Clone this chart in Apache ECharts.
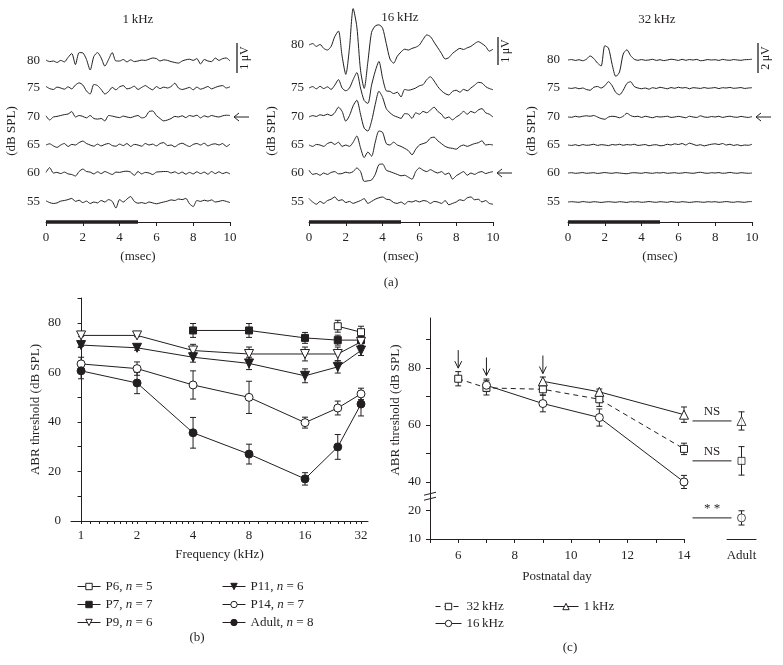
<!DOCTYPE html>
<html><head><meta charset="utf-8">
<script src="https://cdn.jsdelivr.net/npm/echarts@6/dist/echarts.min.js"></script>
<style>html,body{margin:0;padding:0;background:#fff}#c{width:783px;height:665px}</style>
</head><body><div id="c"></div>
<script>
// ======================= DATA =======================
// (a) ABR waveforms, microvolts, sampled every 0.2 ms from 0 to 10 ms
const levels = [80, 75, 70, 65, 60, 55];
const sampleStepMs = 0.2;
const stimulusMs = [0, 5];
const thresholdLevel = [70, 60, 70];          // arrows (1, 16, 32 kHz)
const scaleBarUV = [1, 1, 2];

const k1_80 = [0.03,-0.02,0.0,-0.05,0.02,-0.03,0.12,0.25,-0.12,0.28,
  0.27,0.05,-0.3,0.15,0.28,0.1,-0.17,0.05,0.28,0.0,
  0.0,0.05,-0.03,0.04,-0.02,0.0,0.03,0.02,0.06,0.1,
  0.08,0.0,0.04,0.02,-0.02,-0.05,-0.07,0.0,0.04,0.06,
  0.02,0.08,-0.1,0.05,0.0,-0.02,0.1,0.02,0.08,0.1,0.0];
const k1_75 = [0.05,-0.02,-0.05,0.03,0.0,-0.04,0.04,-0.03,0.1,0.17,
  0.1,-0.1,-0.2,0.12,0.08,-0.05,-0.2,-0.12,0.02,-0.06,
  0.04,0.08,-0.03,0.0,0.06,-0.05,0.02,0.08,0.0,-0.06,
  0.05,-0.02,0.03,0.0,0.05,0.16,0.0,-0.05,-0.02,0.02,
  -0.06,0.03,-0.04,0.0,0.05,-0.03,0.02,0.06,0.08,0.0,0.04];
const k1_70 = [0.04,-0.1,0.0,0.02,0.05,0.08,0.1,0.18,0.0,0.05,
  0.02,-0.03,0.05,-0.05,-0.07,-0.05,-0.13,0.05,0.03,0.0,
  -0.02,0.03,0.0,-0.02,0.02,0.05,-0.03,0.0,0.18,0.2,
  0.05,-0.05,-0.13,-0.1,-0.05,0.02,0.0,0.04,-0.02,0.05,
  0.02,0.06,-0.03,0.04,0.0,0.05,0.02,0.0,0.04,0.06,0.05];
const k1_65 = [0.0,0.04,-0.03,-0.08,0.0,0.05,-0.05,0.02,0.0,0.08,
  0.13,0.05,0.0,-0.04,0.03,-0.03,0.02,0.05,-0.02,-0.04,
  0.03,-0.02,0.05,-0.05,0.02,0.0,-0.04,0.05,0.0,0.03,
  -0.03,0.05,0.08,-0.02,0.0,-0.06,0.02,0.06,0.0,-0.05,
  0.02,0.05,0.0,0.06,-0.03,0.02,0.04,0.0,0.05,-0.05,0.03];
const k1_60 = [0.02,0.18,0.0,0.02,-0.02,0.03,-0.03,-0.05,-0.1,0.05,
  0.13,0.05,0.03,-0.03,0.04,-0.02,0.05,0.0,-0.05,0.03,
  0.02,0.05,0.06,0.03,-0.08,0.05,-0.03,0.02,0.0,-0.05,
  0.03,0.04,0.05,0.05,0.0,0.04,-0.02,0.03,-0.04,0.02,
  -0.03,0.04,-0.02,0.03,-0.04,0.05,-0.02,0.04,-0.02,0.02,-0.03];
const k1_55 = [0.04,-0.02,-0.05,-0.03,0.03,0.05,0.08,0.12,0.02,0.06,
  -0.02,0.03,-0.05,0.0,-0.03,0.05,0.0,0.08,0.02,-0.2,
  0.08,0.0,0.1,0.18,0.02,-0.04,-0.02,-0.05,0.0,-0.03,
  -0.06,-0.03,0.0,0.03,0.07,0.05,0.1,0.08,0.12,-0.06,
  -0.15,0.05,0.02,0.06,0.03,0.07,0.0,0.02,0.05,0.02,-0.02];

const k16_80 = [0.0,0.05,-0.05,0.02,-0.12,-0.18,-0.05,0.3,0.5,-0.4,
  -1.05,-0.1,1.3,0.65,-0.9,-1.55,-0.6,0.45,0.68,0.72,
  0.6,0.05,-0.5,-0.65,-0.4,-0.25,-0.15,-0.18,-0.12,-0.08,
  0.0,0.2,0.36,0.3,0.1,-0.1,-0.3,-0.5,-0.45,-0.3,
  -0.2,-0.12,-0.16,-0.1,-0.05,0.05,0.12,0.05,-0.05,-0.22,-0.15];
const k16_75 = [0.0,0.05,-0.03,0.06,-0.02,0.04,-0.05,0.1,0.3,0.0,
  -0.1,0.0,0.3,0.55,0.0,-0.45,-0.55,0.1,0.6,0.95,
  0.35,-0.1,-0.12,-0.2,-0.15,-0.32,-0.05,-0.08,-0.05,0.0,
  0.08,0.12,0.3,0.4,0.25,0.05,-0.1,-0.2,-0.25,-0.12,
  -0.08,-0.15,-0.05,-0.1,0.0,0.1,0.2,0.18,0.05,-0.02,-0.06];
const k16_70 = [0.0,0.05,0.02,0.08,0.05,0.1,0.05,0.15,0.35,0.2,
  -0.15,0.05,0.4,0.6,0.1,-0.4,-0.5,-0.15,0.45,0.92,
  0.7,0.3,0.15,0.05,0.0,-0.05,0.12,0.1,-0.05,0.15,
  0.1,0.2,0.15,0.25,0.35,0.2,0.1,-0.05,0.0,-0.1,
  0.0,0.08,0.2,0.1,0.2,0.15,0.25,0.3,0.15,0.1,0.0];
const k16_65 = [0.0,-0.05,0.02,0.0,-0.05,0.05,0.1,0.02,0.1,-0.05,
  0.0,-0.05,0.1,0.32,-0.1,-0.45,-0.25,-0.4,0.1,0.5,
  0.45,0.05,0.0,0.1,0.0,-0.05,-0.12,-0.2,-0.35,-0.15,
  0.0,0.05,0.1,0.25,0.28,0.15,0.05,-0.05,-0.1,-0.12,
  -0.15,-0.05,0.0,-0.05,0.0,0.05,0.08,0.15,0.0,0.02,0.0];
const k16_60 = [0.1,-0.05,-0.02,-0.08,0.0,-0.05,0.02,0.05,-0.03,-0.02,
  0.03,0.0,0.05,0.18,0.05,-0.3,-0.28,-0.25,-0.05,0.3,
  0.32,0.1,0.05,0.0,-0.05,-0.1,-0.08,-0.15,-0.22,0.05,
  0.18,0.1,0.05,0.12,0.05,0.0,0.05,-0.05,0.0,-0.22,
  -0.1,-0.02,0.05,-0.08,0.0,-0.05,0.02,0.05,-0.02,0.02,0.05];
const k16_55 = [0.12,0.0,-0.08,0.02,-0.05,0.05,0.1,0.18,0.05,0.08,
  -0.02,0.02,-0.05,0.0,0.05,0.12,-0.05,0.02,0.1,0.15,
  0.18,0.1,0.08,-0.02,-0.05,0.0,-0.08,0.02,0.0,0.05,
  0.0,0.05,0.03,-0.05,0.02,0.0,-0.05,0.05,-0.1,-0.05,
  0.0,0.08,0.05,0.15,0.18,0.08,0.1,0.0,0.05,-0.05,-0.08];

const k32_80 = [0.0,0.03,-0.03,0.02,-0.05,0.05,0.27,0.1,-0.2,-0.4,
  0.95,0.8,-0.3,-1.1,-0.8,0.4,0.68,0.3,0.05,-0.02,
  0.03,-0.02,0.0,0.05,-0.03,0.02,-0.04,0.0,0.05,0.02,
  -0.03,0.05,-0.02,0.03,0.0,0.04,-0.05,-0.02,0.03,0.0,
  0.02,-0.03,0.04,0.0,-0.02,0.03,0.0,-0.02,0.02,0.03,0.05];
const k32_75 = [0.0,-0.03,0.02,-0.05,0.0,-0.1,-0.15,0.05,0.1,0.0,
  0.15,0.42,0.15,-0.3,-0.45,-0.15,0.3,0.42,0.1,0.0,
  -0.05,0.0,-0.08,0.02,-0.03,0.05,0.0,-0.05,0.03,-0.02,
  0.05,0.0,0.03,-0.05,0.02,0.0,-0.03,0.03,-0.02,0.0,
  0.03,-0.04,0.02,0.0,0.04,-0.02,0.0,0.03,-0.03,0.0,0.02];
const k32_70 = [0.0,-0.02,0.05,0.0,0.05,0.08,0.05,0.1,0.0,-0.1,
  -0.15,0.0,0.05,0.02,-0.05,0.05,0.25,0.1,0.02,0.05,
  -0.03,0.05,0.0,-0.05,0.03,0.0,0.02,0.05,-0.03,0.0,
  0.04,0.0,-0.05,0.05,0.0,-0.03,0.08,0.0,-0.02,0.03,
  0.0,0.05,-0.03,0.02,0.05,0.0,-0.02,0.04,0.0,-0.03,0.03];
const k32_65 = [0.0,-0.03,0.02,-0.05,0.03,-0.02,0.0,0.05,-0.03,0.02,
  0.0,-0.04,0.03,0.0,0.05,-0.02,0.03,0.0,0.05,-0.03,
  0.0,0.03,-0.05,0.0,0.02,-0.05,-0.03,0.05,0.0,0.08,
  0.03,0.1,0.0,0.12,0.05,-0.03,0.02,-0.06,0.0,0.05,
  0.08,0.03,0.1,0.0,0.05,-0.03,0.02,-0.05,0.0,-0.02,0.05];
const k32_60 = [0.0,0.02,-0.02,0.0,0.03,-0.02,0.0,0.02,-0.03,0.0,
  0.03,0.0,-0.02,0.02,0.0,-0.03,-0.05,0.0,0.02,0.0,
  -0.02,0.03,0.0,-0.02,0.02,0.0,0.03,-0.02,0.0,0.02,
  -0.02,0.0,0.03,0.0,-0.02,0.02,0.05,0.0,-0.02,0.02,
  0.0,0.03,-0.02,0.0,0.04,0.0,-0.02,0.02,0.0,-0.02,0.0];
const k32_55 = [0.0,0.02,0.0,-0.02,0.03,0.0,-0.02,0.02,0.0,-0.03,
  0.0,0.02,0.0,-0.02,0.02,0.0,-0.03,0.02,0.0,0.02,
  -0.02,0.0,0.03,0.0,-0.02,0.02,0.0,-0.02,0.03,0.0,
  -0.02,0.02,0.0,-0.03,0.0,0.02,0.0,-0.02,0.02,0.0,
  0.02,-0.02,0.0,0.03,0.0,-0.02,0.02,0.0,-0.02,0.02,0.03];

// (b) thresholds vs frequency
const freqKHz = [1, 2, 4, 8, 16, 24, 32];
const freqTicks = [1, 2, 4, 8, 16, 32];
const minorFreqTicks = [1.125,1.25,1.375,1.5,1.625,1.75,1.875,2.25,2.5,2.75,3,3.25,3.5,3.75,
  4.5,5,5.5,6,6.5,7,7.5,9,10,11,12,13,14,15,18,20,22,24,26,28,30];
const groupNames = ['P6', 'P7', 'P9', 'P11', 'P14', 'Adult'];
const groupN = [5, 7, 6, 6, 7, 8];
const thrP6 = [null, null, null, null, null, 78.6, 76.2];
const semP6 = [null, null, null, null, null, 2.4, 2.4];
const thrP7 = [null, null, 76.9, 76.9, 73.9, 73.0, 73.0];
const semP7 = [null, null, 2.8, 2.8, 2.2, 2.0, 1.5];
const thrP9 = [74.9, 74.9, 68.8, 67.4, 67.4, 67.4, 72.3];
const semP9 = [0.5, 0.5, 2.5, 2.8, 2.8, 2.8, 1.5];
const thrP11 = [71.0, 69.9, 66.1, 63.6, 58.6, 62.2, 68.8];
const semP11 = [0.5, 1.0, 2.0, 2.5, 2.8, 2.5, 2.0];
const thrP14 = [63.4, 61.5, 54.9, 49.9, 39.7, 45.6, 51.3];
const semP14 = [2.7, 2.7, 5.7, 6.5, 2.2, 2.8, 2.3];
const thrAdult = [60.6, 55.7, 35.6, 27.0, 17.0, 29.9, 47.2];
const semAdult = [3.2, 4.3, 6.2, 4.0, 2.5, 5.0, 4.8];

// (c) thresholds vs postnatal day
const days32 = [6, 7, 9, 11, 14];
const thr32 = [76.2, 73.0, 72.5, 69.0, 51.6];
const sem32 = [2.5, 2.5, 2.0, 2.5, 2.0];
const days16 = [7, 9, 11, 14];
const thr16 = [73.9, 67.5, 62.6, 40.0];
const sem16 = [2.2, 2.9, 3.0, 2.3];
const days1 = [9, 11, 14];
const thr1 = [75.3, 71.6, 63.6];
const sem1 = [1.5, 1.0, 2.7];
const adultCat = ['Adult'];
const adult32 = [47.4], adultSem32 = [5.0];
const adult16 = [17.4], adultSem16 = [2.5];
const adult1 = [61.4], adultSem1 = [3.2];
const arrowDays = [6, 7, 9];
const sigMarks = ['NS', 'NS', '* *'];   // 1 kHz, 32 kHz, 16 kHz vs adult
const dayTicks = [6, 8, 10, 12, 14];

// ======================= LAYOUT / STYLE =======================
const FONT = 'Liberation Serif';
const INK = '#231f20';
const AX = {lineStyle: {color: INK, width: 1}};
const panelA = [
  {title: '1\u2009kHz', left: 46, pxPerUV: 30, basePx: [161, 134, 105, 77, 49, 20],
   traces: [k1_80, k1_75, k1_70, k1_65, k1_60, k1_55], barX: 237, barTop: 43, titleX: 138, titleY: 20, lm: 6, ng: 28},
  {title: '16\u2009kHz', left: 309, pxPerUV: 28, basePx: [177, 134, 105, 77, 49, 20],
   traces: [k16_80, k16_75, k16_70, k16_65, k16_60, k16_55], barX: 498, barTop: 37, titleX: 400, titleY: 18, lm: 5, ng: 31},
  {title: '32\u2009kHz', left: 568, pxPerUV: 15, basePx: [162, 134, 105, 77, 49, 20],
   traces: [k32_80, k32_75, k32_70, k32_65, k32_60, k32_55], barX: 758, barTop: 43, titleX: 657, titleY: 20, lm: 8, ng: 30}
];
const A_TOP = 40, A_H = 182, A_W = 184;

// broken y axis of (c): 20..40 is cut out
function tOf(v) { return v >= 30 ? v : v + 10; }

function errRender(params, api) {
  const x = api.value(0), yTop = api.value(1), yBot = api.value(2);
  const a = api.coord([x, yTop]), b = api.coord([x, yBot]);
  const w = 3, s = {stroke: INK, lineWidth: 1};
  return {type: 'group', children: [
    {type: 'line', shape: {x1: a[0], y1: a[1], x2: b[0], y2: b[1]}, style: s},
    {type: 'line', shape: {x1: a[0] - w, y1: a[1], x2: a[0] + w, y2: a[1]}, style: s},
    {type: 'line', shape: {x1: b[0] - w, y1: b[1], x2: b[0] + w, y2: b[1]}, style: s}
  ]};
}

const grid = [], xAxis = [], yAxis = [], series = [];
const lbl = {color: INK, fontFamily: FONT, fontSize: 13};

// ---- (a)
panelA.forEach((p, gi) => {
  grid.push({left: p.left, top: A_TOP, width: A_W, height: A_H});
  const baseUV = p.basePx.map(b => b / p.pxPerUV);
  p.baseUV = baseUV;
  xAxis.push({gridIndex: gi, type: 'value', min: 0, max: 10, interval: 2,
    axisLine: AX, axisTick: {length: 4, lineStyle: {color: INK}}, axisLabel: Object.assign({margin: 9}, lbl),
    splitLine: {show: false}, name: '(msec)', nameLocation: 'middle', nameGap: 28, nameTextStyle: lbl});
  yAxis.push({gridIndex: gi, type: 'value', min: 0, max: A_H / p.pxPerUV,
    axisLine: {show: false}, axisTick: {show: false}, splitLine: {show: false},
    axisLabel: Object.assign({customValues: baseUV, margin: p.lm,
      formatter: v => { const i = baseUV.findIndex(b => Math.abs(b - v) < 1e-3); return i >= 0 ? String(levels[i]) : ''; }}, lbl),
    name: '(dB SPL)', nameLocation: 'middle', nameGap: p.ng, nameTextStyle: lbl});
  p.traces.forEach((arr, j) => {
    series.push({type: 'line', name: 'a' + gi + '-' + levels[j], xAxisIndex: gi, yAxisIndex: gi,
      data: arr.map((v, i) => [i * sampleStepMs, baseUV[j] + v]),
      showSymbol: false, symbol: 'none', smooth: 0.25, clip: false, silent: true,
      lineStyle: {color: INK, width: 1}});
  });
  series.push({type: 'line', name: 'stim' + gi, xAxisIndex: gi, yAxisIndex: gi,
    data: stimulusMs.map(t => [t, 0]), symbol: 'none', clip: false, silent: true,
    lineStyle: {color: INK, width: 3.5}, z: 4});
});

// ---- (b)
grid.push({left: 71, top: 298, width: 297, height: 223});
const XB_MIN = -0.18, XB_MAX = 5.125;
const allFreqTicks = freqTicks.concat(minorFreqTicks).sort((a, b) => a - b);
xAxis.push({gridIndex: 3, type: 'value', position: 'bottom', min: XB_MIN, max: XB_MAX, axisLine: AX,
  axisTick: {customValues: allFreqTicks.map(Math.log2), length: 3, lineStyle: {color: INK}},
  axisLabel: Object.assign({customValues: freqTicks.map(Math.log2), margin: 8,
    formatter: v => String(Math.round(Math.pow(2, v)))}, lbl),
  splitLine: {show: false}, name: 'Frequency (kHz)', nameLocation: 'middle', nameGap: 27, nameTextStyle: lbl});
yAxis.push({gridIndex: 3, type: 'value', min: 0, max: 90, axisLine: Object.assign({show: true}, AX),
  axisTick: {show: true, customValues: [0,10,20,30,40,50,60,70,80,90], length: 3.5, lineStyle: {color: INK}},
  axisLabel: Object.assign({customValues: [0,20,40,60,80], margin: 10}, lbl), splitLine: {show: false},
  name: 'ABR threshold (dB SPL)', nameLocation: 'middle', nameGap: 29, nameTextStyle: lbl});

const groupThr = [thrP6, thrP7, thrP9, thrP11, thrP14, thrAdult];
const groupSem = [semP6, semP7, semP9, semP11, semP14, semAdult];
const groupSym = [
  {symbol: 'rect', size: 7, fill: '#fff', rot: 0},
  {symbol: 'rect', size: 7, fill: INK, rot: 0},
  {symbol: 'triangle', size: 9, fill: '#fff', rot: 180},
  {symbol: 'triangle', size: 9, fill: INK, rot: 180},
  {symbol: 'circle', size: 8, fill: '#fff', rot: 0},
  {symbol: 'circle', size: 8, fill: INK, rot: 0}
];
groupNames.forEach((name, g) => {
  const pts = [], errs = [];
  freqKHz.forEach((f, i) => {
    const v = groupThr[g][i];
    if (v == null) return;
    const x = Math.log2(f);
    pts.push([x, v]);
    errs.push([x, v + groupSem[g][i], v - groupSem[g][i]]);
  });
  const s = groupSym[g];
  series.push({type: 'custom', name: name + '-err', xAxisIndex: 3, yAxisIndex: 3, renderItem: errRender,
    data: errs, z: 2, silent: true});
  series.push({type: 'line', name, xAxisIndex: 3, yAxisIndex: 3, data: pts,
    symbol: s.symbol, symbolSize: s.size, symbolRotate: s.rot, showSymbol: true,
    itemStyle: {color: s.fill, borderColor: INK, borderWidth: 1},
    lineStyle: {color: INK, width: 1}, z: 3});
});

// ---- (c)
grid.push({left: 430, top: 318, width: 254, height: 221});
grid.push({left: 727, top: 318, width: 29, height: 221});
const YC_MIN = 20, YC_MAX = 97.5;
xAxis.push({gridIndex: 4, type: 'value', min: 5, max: 14, interval: 1, axisLine: AX,
  axisTick: {length: 4, lineStyle: {color: INK}},
  axisLabel: Object.assign({margin: 10, formatter: v => dayTicks.includes(v) ? String(v) : ''}, lbl),
  splitLine: {show: false}, name: 'Postnatal day', nameLocation: 'middle', nameGap: 31, nameTextStyle: lbl});
xAxis.push({gridIndex: 5, type: 'category', data: adultCat, boundaryGap: true, axisLine: AX,
  axisTick: {alignWithLabel: true, length: 4, lineStyle: {color: INK}},
  axisLabel: Object.assign({margin: 10}, lbl), splitLine: {show: false}});
yAxis.push({gridIndex: 4, type: 'value', min: YC_MIN, max: YC_MAX, axisLine: Object.assign({show: true}, AX),
  axisTick: {show: true, customValues: [20,30,40,50,60,70,80,90], length: 4, lineStyle: {color: INK}},
  axisLabel: Object.assign({customValues: [20,30,40,60,80], margin: 9,
    formatter: t => String(t <= 30 ? t - 10 : t)}, lbl), splitLine: {show: false}});
yAxis.push({gridIndex: 5, type: 'value', min: YC_MIN, max: YC_MAX, show: false});

const cSets = [
  {name: '32\u2009kHz', days: days32, thr: thr32, sem: sem32, ad: adult32, adSem: adultSem32, symbol: 'rect', size: 7, dash: [5, 4]},
  {name: '16\u2009kHz', days: days16, thr: thr16, sem: sem16, ad: adult16, adSem: adultSem16, symbol: 'circle', size: 8, dash: 'solid'},
  {name: '1\u2009kHz', days: days1, thr: thr1, sem: sem1, ad: adult1, adSem: adultSem1, symbol: 'triangle', size: 9, dash: 'solid'}
];
cSets.forEach(c => {
  series.push({type: 'custom', name: c.name + '-err', xAxisIndex: 4, yAxisIndex: 4, renderItem: errRender,
    data: c.days.map((d, i) => [d, tOf(c.thr[i] + c.sem[i]), tOf(c.thr[i] - c.sem[i])]), z: 2, silent: true});
  series.push({type: 'line', name: c.name, xAxisIndex: 4, yAxisIndex: 4,
    data: c.days.map((d, i) => [d, tOf(c.thr[i])]),
    symbol: c.symbol, symbolSize: c.size, showSymbol: true,
    itemStyle: {color: '#fff', borderColor: INK, borderWidth: 1},
    lineStyle: {color: INK, width: 1, type: c.dash}, z: 3});
  series.push({type: 'custom', name: c.name + '-adErr', xAxisIndex: 5, yAxisIndex: 5, renderItem: errRender,
    data: c.ad.map((v, i) => [i, tOf(v + c.adSem[i]), tOf(v - c.adSem[i])]), z: 2, silent: true});
  series.push({type: 'scatter', name: c.name + '-adult', xAxisIndex: 5, yAxisIndex: 5,
    data: c.ad.map((v, i) => [i, tOf(v)]), symbol: c.symbol, symbolSize: c.size,
    itemStyle: {color: '#fff', borderColor: INK, borderWidth: 1}, z: 3});
});

const legBase = {orient: 'vertical', selectedMode: false, itemGap: 5, itemHeight: 8,
  lineStyle: {width: 1, color: INK}, itemStyle: {borderWidth: 1, borderColor: INK},
  textStyle: {color: INK, fontFamily: FONT, fontSize: 13, lineHeight: 13,
    rich: {i: {fontStyle: 'italic', fontFamily: FONT, fontSize: 13, color: INK, lineHeight: 13},
           r: {fontFamily: FONT, fontSize: 13, color: INK, lineHeight: 13}}}};
const legFmt = name => { const g = groupNames.indexOf(name); return '{r|' + name + ', }{i|n}{r| = ' + groupN[g] + '}'; };
const legend = [
  Object.assign({}, legBase, {data: groupNames.slice(0, 3), left: 72, top: 575, itemWidth: 23, formatter: legFmt}),
  Object.assign({}, legBase, {data: groupNames.slice(3), left: 217, top: 575, itemWidth: 23, formatter: legFmt}),
  Object.assign({}, legBase, {data: [cSets[0].name, cSets[1].name], left: 430, top: 595, itemWidth: 26, itemGap: 4}),
  Object.assign({}, legBase, {data: [cSets[2].name], left: 548, top: 595, itemWidth: 25})
];

const chart = echarts.init(document.getElementById('c'), null, {renderer: 'canvas'});
chart.setOption({animation: false, backgroundColor: '#fff', textStyle: {fontFamily: FONT},
  grid, xAxis, yAxis, legend, series});

// ======================= ANNOTATIONS =======================
const P = (gi, pt) => chart.convertToPixel({gridIndex: gi}, pt);
const L = (x1, y1, x2, y2, w) => ({type: 'line', silent: true, shape: {x1, y1, x2, y2}, style: {stroke: INK, lineWidth: w || 1}});
const T = (x, y, text, size, rot) => ({type: 'text', silent: true, x, y, rotation: rot || 0,
  style: {text, fontFamily: FONT, fontSize: size || 13, fill: INK, align: 'center', verticalAlign: 'middle'}});
const g = [];
panelA.forEach((p, gi) => {
  g.push(T(p.titleX, p.titleY, p.title));
  const len = P(gi, [0, 0])[1] - P(gi, [0, scaleBarUV[gi]])[1];
  g.push(L(p.barX, p.barTop, p.barX, p.barTop + len, 1.3));
  g.push(T(p.barX + 8, p.barTop + len / 2, scaleBarUV[gi] + '\u2009\u03bcV', 12, Math.PI / 2));
  const j = levels.indexOf(thresholdLevel[gi]);
  const y = P(gi, [0, p.baseUV[j]])[1];
  const tip = P(gi, [10, 0])[0] + 4;
  g.push(L(tip, y, tip + 15, y));
  g.push({type: 'polyline', silent: true, shape: {points: [[tip + 5, y - 4], [tip, y], [tip + 5, y + 4]]},
    style: {stroke: INK, fill: null, lineWidth: 1}});
});
g.push(T(391, 283, '(a)'));
g.push(T(197, 638, '(b)'));
g.push(T(570, 648, '(c)'));
g.push(T(396, 410, 'ABR threshold (dB SPL)', 13, Math.PI / 2));
// axis break mark
const yb = P(4, [5, 35])[1], xb = P(4, [5, 35])[0];
g.push({type: 'rect', silent: true, shape: {x: xb - 2, y: yb - 2, width: 4, height: 4}, style: {fill: '#fff'}});
g.push(L(xb - 6, yb - 1, xb + 6, yb - 4));
g.push(L(xb - 6, yb + 4, xb + 6, yb + 1));
// significance marks beside adult points: 1 kHz, 32 kHz, 16 kHz
[2, 0, 1].forEach((ci, k) => {
  const c = cSets[ci];
  const pt = P(5, [0, tOf(c.ad[0])]);
  const x2 = pt[0] - 10, x1 = pt[0] - 49;
  g.push(L(x1, pt[1], x2, pt[1]));
  g.push(T((x1 + x2) / 2, pt[1] - 9, sigMarks[k]));
});
// arrows marking the first measurable ABR
arrowDays.forEach(d => {
  let top = -Infinity;
  cSets.forEach(c => { const i = c.days.indexOf(d); if (i >= 0) top = Math.max(top, c.thr[i] + c.sem[i]); });
  const p = P(4, [d, tOf(top)]);
  const tip = p[1] - 3.5;
  g.push(L(p[0], tip - 18, p[0], tip));
  g.push({type: 'polyline', silent: true, shape: {points: [[p[0] - 3.5, tip - 7], [p[0], tip], [p[0] + 3.5, tip - 7]]},
    style: {stroke: INK, fill: null, lineWidth: 1}});
});
chart.setOption({graphic: g});
</script></body></html>
